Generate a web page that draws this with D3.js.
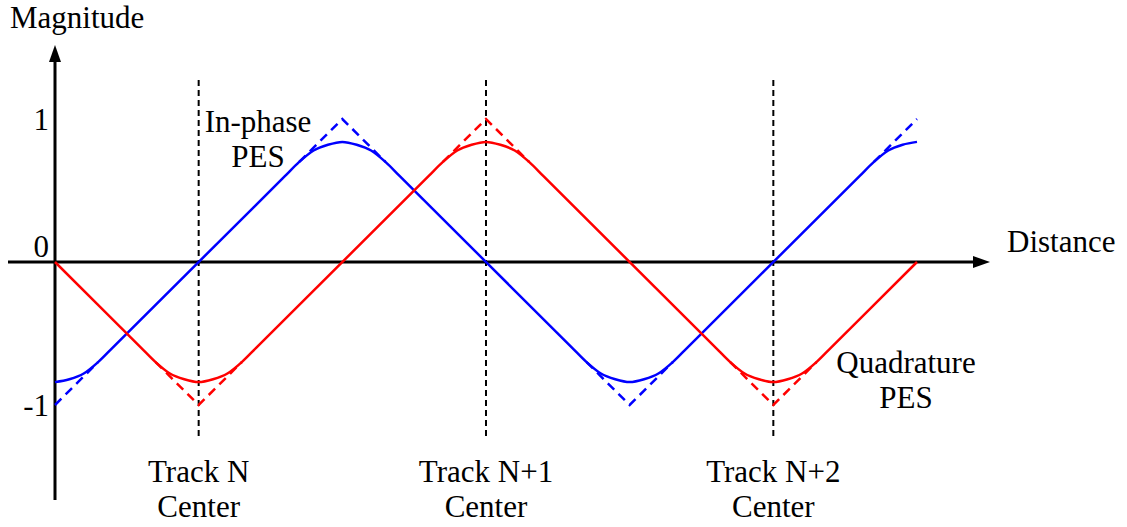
<!DOCTYPE html>
<html>
<head>
<meta charset="utf-8">
<script src="https://cdn.jsdelivr.net/npm/d3@7"></script>
<style>
  html, body { margin: 0; padding: 0; background: #fff; }
  svg { display: block; }
  text { font-family: "Liberation Serif", "Times New Roman", serif; font-size: 31px; fill: #000; }
</style>
</head>
<body>
<svg id="chart" width="1127" height="527"></svg>
<script>
// Distance is measured in quarter track-pitches; magnitude is normalised PES.

// Track centres along the distance axis
const trackPositions = [1, 3, 5];
const trackNames = ["Track N", "Track N+1", "Track N+2"];

// Magnitude tick labels
const yTickValues = [1, 0, -1];
const yTickLabels = ["1", "0", "-1"];

// Measured (saturated) in-phase PES
const inPhaseX = [0, 0.1, 0.2, 0.3, 0.4,
                  1.6, 1.7, 1.8, 1.9, 2, 2.1, 2.2, 2.3, 2.4,
                  3.6, 3.7, 3.8, 3.9, 4, 4.1, 4.2, 4.3, 4.4,
                  5.6, 5.7, 5.8, 5.9, 6];
const inPhaseY = [-0.84, -0.82, -0.78, -0.70, -0.60,
                  0.60, 0.70, 0.78, 0.82, 0.84, 0.82, 0.78, 0.70, 0.60,
                  -0.60, -0.70, -0.78, -0.82, -0.84, -0.82, -0.78, -0.70, -0.60,
                  0.60, 0.70, 0.78, 0.82, 0.84];

// Measured (saturated) quadrature PES
const quadX = [0,
               0.6, 0.7, 0.8, 0.9, 1, 1.1, 1.2, 1.3, 1.4,
               2.6, 2.7, 2.8, 2.9, 3, 3.1, 3.2, 3.3, 3.4,
               4.6, 4.7, 4.8, 4.9, 5, 5.1, 5.2, 5.3, 5.4,
               6];
const quadY = [0,
               -0.60, -0.70, -0.78, -0.82, -0.84, -0.82, -0.78, -0.70, -0.60,
               0.60, 0.70, 0.78, 0.82, 0.84, 0.82, 0.78, 0.70, 0.60,
               -0.60, -0.70, -0.78, -0.82, -0.84, -0.82, -0.78, -0.70, -0.60,
               0];

// Ideal (linear) PES near the peaks, shown dashed
const inPhaseIdeal = [
  [[0, -1], [0.3, -0.7]],
  [[1.7, 0.7], [2, 1], [2.3, 0.7]],
  [[3.7, -0.7], [4, -1], [4.3, -0.7]],
  [[5.7, 0.7], [6, 1]]
];
const quadIdeal = [
  [[0.7, -0.7], [1, -1], [1.3, -0.7]],
  [[2.7, 0.7], [3, 1], [3.3, 0.7]],
  [[4.7, -0.7], [5, -1], [5.3, -0.7]]
];

const svg = d3.select("#chart");
const x = d3.scaleLinear().domain([0, 6]).range([55, 917]);
const y = d3.scaleLinear().domain([-1, 1]).range([405, 119]);

const BLUE = "#0000ff", RED = "#ff0000";

// Axes with arrowheads
const ox = x(0), oy = y(0);
const xEnd = 990, yEnd = 45;
svg.append("line").attr("x1", 8).attr("x2", xEnd - 12).attr("y1", oy).attr("y2", oy)
  .attr("stroke", "#000").attr("stroke-width", 3);
svg.append("path").attr("d", `M${xEnd},${oy} L${xEnd - 17},${oy - 6} L${xEnd - 17},${oy + 6} Z`).attr("fill", "#000");
svg.append("line").attr("x1", ox).attr("x2", ox).attr("y1", 500).attr("y2", yEnd + 12)
  .attr("stroke", "#000").attr("stroke-width", 3);
svg.append("path").attr("d", `M${ox},${yEnd} L${ox - 6},${yEnd + 17} L${ox + 6},${yEnd + 17} Z`).attr("fill", "#000");

svg.append("text").attr("x", 10).attr("y", 28).text("Magnitude");
svg.append("text").attr("x", 1007).attr("y", 252).text("Distance");

// Magnitude tick labels
svg.selectAll("text.ytick").data(yTickValues).join("text")
  .attr("class", "ytick")
  .attr("x", 49)
  .attr("y", d => d === 0 ? y(d) - 5 : y(d) + 11)
  .attr("text-anchor", "end")
  .text((d, i) => yTickLabels[i]);

// Track centre markers
svg.selectAll("line.track").data(trackPositions).join("line")
  .attr("class", "track")
  .attr("x1", d => x(d)).attr("x2", d => x(d))
  .attr("y1", 80).attr("y2", 440)
  .attr("stroke", "#000").attr("stroke-width", 2).attr("stroke-dasharray", "6,4");

trackPositions.forEach((p, i) => {
  const t = svg.append("text").attr("x", x(p)).attr("y", 482).attr("text-anchor", "middle");
  t.append("tspan").attr("x", x(p)).text(trackNames[i]);
  t.append("tspan").attr("x", x(p)).attr("dy", 35).text("Center");
});

// Ideal dashed segments
const straight = d3.line().x(d => x(d[0])).y(d => y(d[1]));
svg.selectAll("path.ideal-in").data(inPhaseIdeal).join("path")
  .attr("class", "ideal-in").attr("d", straight)
  .attr("fill", "none").attr("stroke", BLUE).attr("stroke-width", 2.5).attr("stroke-dasharray", "9,6");
svg.selectAll("path.ideal-q").data(quadIdeal).join("path")
  .attr("class", "ideal-q").attr("d", straight)
  .attr("fill", "none").attr("stroke", RED).attr("stroke-width", 2.5).attr("stroke-dasharray", "9,6");

// Measured PES curves
const smooth = d3.line().x(d => x(d[0])).y(d => y(d[1])).curve(d3.curveMonotoneX);
const inPhasePts = inPhaseX.map((v, i) => [v, inPhaseY[i]]);
const quadPts = quadX.map((v, i) => [v, quadY[i]]);
svg.append("path").attr("d", smooth(inPhasePts))
  .attr("fill", "none").attr("stroke", BLUE).attr("stroke-width", 2.5);
svg.append("path").attr("d", smooth(quadPts))
  .attr("fill", "none").attr("stroke", RED).attr("stroke-width", 2.5);

// Series labels
const inLbl = svg.append("text").attr("x", 258).attr("y", 132).attr("text-anchor", "middle");
inLbl.append("tspan").attr("x", 258).text("In-phase");
inLbl.append("tspan").attr("x", 258).attr("dy", 35).text("PES");
const qLbl = svg.append("text").attr("x", 906).attr("y", 373).attr("text-anchor", "middle");
qLbl.append("tspan").attr("x", 906).text("Quadrature");
qLbl.append("tspan").attr("x", 906).attr("dy", 35).text("PES");
</script>
</body>
</html>
